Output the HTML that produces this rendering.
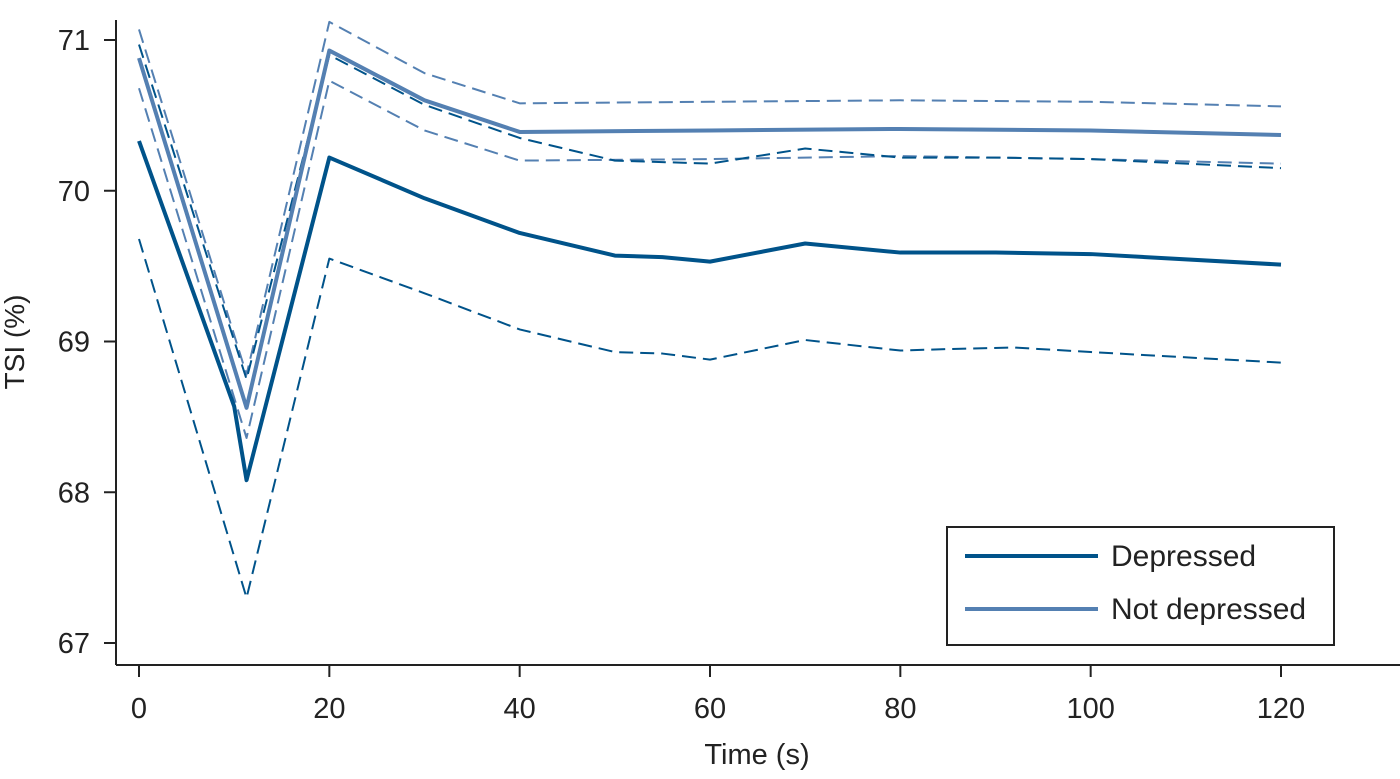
<!DOCTYPE html>
<html><head><meta charset="utf-8"><style>
body{margin:0;background:#fff}
text{font-family:"Liberation Sans",sans-serif;fill:#222}
</style></head><body>
<svg width="1400" height="774">
<g id="plot"></g>
</svg>
<script>
const depX=[0,10,11.3,20,30,40,50,55,60,70,80,90,100,120];
const depMean=[70.33,68.57,68.08,70.22,69.95,69.72,69.57,69.56,69.53,69.65,69.59,69.59,69.58,69.51];
const depLowX=[0,11.3,20,30,40,50,55,60,70,80,85,92,100,120];
const depLow=[69.68,67.3,69.55,69.32,69.08,68.93,68.92,68.88,69.01,68.94,68.95,68.96,68.93,68.86];
const depUpX=[0,11.3,20,30,40,50,60,70,80,90,100,120];
const depUp=[70.97,68.75,70.9,70.57,70.35,70.2,70.18,70.28,70.22,70.22,70.21,70.15];
const ndX=[0,11.3,20,30,40,60,80,100,120];
const ndMean=[70.88,68.56,70.93,70.6,70.39,70.4,70.41,70.4,70.37];
const ndUp=[71.07,68.78,71.12,70.78,70.58,70.59,70.6,70.59,70.56];
const ndLow=[70.68,68.36,70.73,70.4,70.2,70.21,70.23,70.21,70.18];
const xTicks=[0,20,40,60,80,100,120];
const yTicks=[67,68,69,70,71];
const NS="http://www.w3.org/2000/svg";
const g=document.getElementById('plot');
const sx=v=>139+v*(1142/120);
const sy=v=>643-(v-67)*150.75;
function mk(t,a){const e=document.createElementNS(NS,t);for(const k in a)e.setAttribute(k,a[k]);g.appendChild(e);return e;}
function line(xs,ys,color,w,dash,name){
  const e=mk('polyline',{points:xs.map((x,i)=>sx(x)+','+sy(ys[i])).join(' '),fill:'none',stroke:color,'stroke-width':w,'stroke-dasharray':dash||'none','stroke-linejoin':'round'});
  
  
}
const D='#00538a',L='#5480b2';
line(ndX,ndUp,L,2,'14,7','not-depressed-upper-ci');
line(ndX,ndLow,L,2,'14,7','not-depressed-lower-ci');
line(depUpX,depUp,D,2,'14,7','depressed-upper-ci');
line(depLowX,depLow,D,2,'14,7','depressed-lower-ci');
line(ndX,ndMean,L,4,null,'not-depressed-mean-line');
line(depX,depMean,D,4,null,'depressed-mean-line');
let a=mk('line',{x1:116,y1:20,x2:116,y2:665,stroke:'#222','stroke-width':2});

a=mk('line',{x1:116,y1:665,x2:1400,y2:665,stroke:'#222','stroke-width':2});

yTicks.forEach(v=>{
  const t=mk('line',{x1:104,y1:sy(v),x2:116,y2:sy(v),stroke:'#222','stroke-width':2});
  
  const l=mk('text',{x:90,y:sy(v)+10,'text-anchor':'end','font-size':29});l.textContent=v;
  
});
xTicks.forEach(v=>{
  const t=mk('line',{x1:sx(v),y1:665,x2:sx(v),y2:677,stroke:'#222','stroke-width':2});
  
  const l=mk('text',{x:sx(v),y:718,'text-anchor':'middle','font-size':29});l.textContent=v;
  
});
let t=mk('text',{x:757,y:764,'text-anchor':'middle','font-size':29});t.textContent='Time (s)';

t=mk('text',{x:0,y:0,'text-anchor':'middle','font-size':28,transform:'translate(24,342) rotate(-90)'});t.textContent='TSI (%)';

let r=mk('rect',{x:947,y:527,width:387,height:118,fill:'#fff',stroke:'#222','stroke-width':2});

r=mk('line',{x1:965,y1:556,x2:1098,y2:556,stroke:D,'stroke-width':4});

r=mk('line',{x1:965,y1:609,x2:1098,y2:609,stroke:L,'stroke-width':4});

t=mk('text',{x:1111,y:566,'font-size':30});t.textContent='Depressed';

t=mk('text',{x:1111,y:619,'font-size':30});t.textContent='Not depressed';

</script>
</body></html>
